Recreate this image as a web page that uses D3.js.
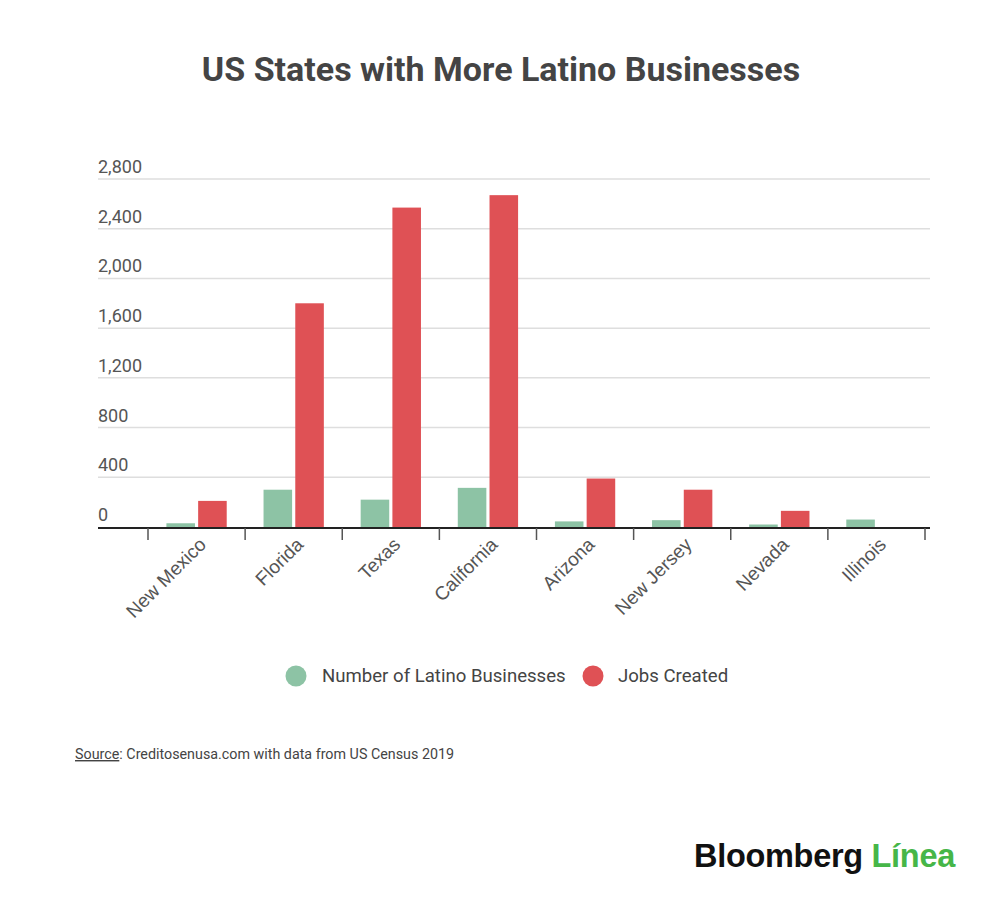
<!DOCTYPE html>
<html>
<head>
<meta charset="utf-8">
<script src="https://cdn.jsdelivr.net/npm/d3@7"></script>
<style>
  body { margin: 0; background: #fff; }
  svg { display: block; }
</style>
</head>
<body>
<script>
// Chart data
var states = ["New Mexico", "Florida", "Texas", "California", "Arizona", "New Jersey", "Nevada", "Illinois"]
var businesses = [30, 300, 220, 315, 45, 55, 20, 60]
var jobs = [210, 1800, 2570, 2670, 390, 300, 130, 0]
var seriesNames = ["Number of Latino Businesses", "Jobs Created"]
var yTicks = [0, 400, 800, 1200, 1600, 2000, 2400, 2800]

var colors = ["#8dc3a5", "#df5155"]

var width = 1000, height = 901

var svg = d3.select("body").append("svg")
            .attr("width", width)
            .attr("height", height)

// Title
svg.append("text")
   .attr("x", 501)
   .attr("y", 81)
   .attr("text-anchor", "middle")
   .style("font-family", "Roboto")
   .style("font-weight", "bold")
   .style("font-size", "34px")
   .style("fill", "#444")
   .text("US States with More Latino Businesses")

// Scales
var x = d3.scaleBand()
          .domain(states)
          .range([148, 925])
          .padding(0)

var xInner = d3.scaleBand()
               .domain(seriesNames)
               .range([0, x.bandwidth()])
               .paddingInner(0.1)
               .paddingOuter(0.58)

var y = d3.scaleLinear()
          .domain([0, 2800])
          .range([527, 179])

var gridLeft = 98, gridRight = 930

// Gridlines
svg.append("g")
   .selectAll("line")
   .data(yTicks.filter(function(d){ return d > 0 }))
   .enter().append("line")
   .attr("x1", gridLeft)
   .attr("x2", gridRight)
   .attr("y1", function(d){ return y(d) })
   .attr("y2", function(d){ return y(d) })
   .style("stroke", "#dedede")
   .style("stroke-width", 1.5)

// Y labels, left aligned above gridline
svg.append("g")
   .selectAll("text")
   .data(yTicks)
   .enter().append("text")
   .attr("x", gridLeft)
   .attr("y", function(d){ return y(d) - 6 })
   .style("font-family", "Roboto")
   .style("font-size", "18px")
   .style("fill", "#555")
   .text(function(d){ return d3.format(",")(d) })

// Bars
var rows = states.map(function(s, i){
  return {state: s, values: [businesses[i], jobs[i]]}
})

var groups = svg.append("g")
                .selectAll("g")
                .data(rows)
                .enter().append("g")
                .attr("transform", function(d){ return "translate(" + x(d.state) + ",0)" })

groups.selectAll("rect")
      .data(function(d){
        return d.values.map(function(v, j){ return {name: seriesNames[j], value: v, idx: j} })
      })
      .enter().append("rect")
      .attr("x", function(d){ return xInner(d.name) })
      .attr("width", xInner.bandwidth())
      .attr("y", function(d){ return y(d.value) })
      .attr("height", function(d){ return y(0) - y(d.value) })
      .style("fill", function(d){ return colors[d.idx] })

// X axis line and edge ticks
svg.append("line")
   .attr("x1", gridLeft)
   .attr("x2", gridRight)
   .attr("y1", y(0) + 1)
   .attr("y2", y(0) + 1)
   .style("stroke", "#222")
   .style("stroke-width", 2)

var edges = states.map(function(s){ return x(s) }).concat([x.range()[1]])
svg.append("g")
   .selectAll("line")
   .data(edges)
   .enter().append("line")
   .attr("x1", function(d){ return d })
   .attr("x2", function(d){ return d })
   .attr("y1", y(0) + 1)
   .attr("y2", y(0) + 13)
   .style("stroke", "#555")
   .style("stroke-width", 1.5)

// X labels via axis
var xAxis = svg.append("g")
               .attr("transform", "translate(0," + (y(0) + 1) + ")")
               .call(d3.axisBottom(x).tickSize(0))
xAxis.select(".domain").remove()
xAxis.selectAll("text")
     .attr("transform", "translate(6,13) rotate(-45)")
     .attr("dy", "0.35em")
     .attr("x", 0)
     .attr("y", 0)
     .style("text-anchor", "end")
     .style("font-family", "Liberation Sans, Arial, sans-serif")
     .style("font-size", "19px")
     .style("fill", "#555")

// Legend
var legendPos = [{cx: 296, tx: 322}, {cx: 593, tx: 618}]
var legend = svg.append("g")
                .selectAll("g")
                .data(seriesNames)
                .enter().append("g")

legend.append("circle")
      .attr("cx", function(d, i){ return legendPos[i].cx })
      .attr("cy", 676)
      .attr("r", 10.5)
      .style("fill", function(d, i){ return colors[i] })

legend.append("text")
      .attr("x", function(d, i){ return legendPos[i].tx })
      .attr("y", 682)
      .style("font-family", "Roboto")
      .style("font-size", "18.6px")
      .style("fill", "#444")
      .text(function(d){ return d })

// Source
var source = svg.append("text")
                .attr("x", 75)
                .attr("y", 759)
                .style("font-family", "Roboto")
                .style("font-size", "14.3px")
                .style("fill", "#444")
source.append("tspan")
      .style("text-decoration", "underline")
      .text("Source")
source.append("tspan")
      .text(": Creditosenusa.com with data from US Census 2019")

// Logo
var logo = svg.append("text")
              .attr("x", 694)
              .attr("y", 867)
              .style("font-family", "Liberation Sans, Arial, sans-serif")
              .style("font-weight", "bold")
              .style("font-size", "32.5px")
              .style("letter-spacing", "-0.3px")
logo.append("tspan")
    .style("fill", "#111")
    .text("Bloomberg ")
logo.append("tspan")
    .style("fill", "#46b648")
    .text("Línea")
</script>
</body>
</html>
